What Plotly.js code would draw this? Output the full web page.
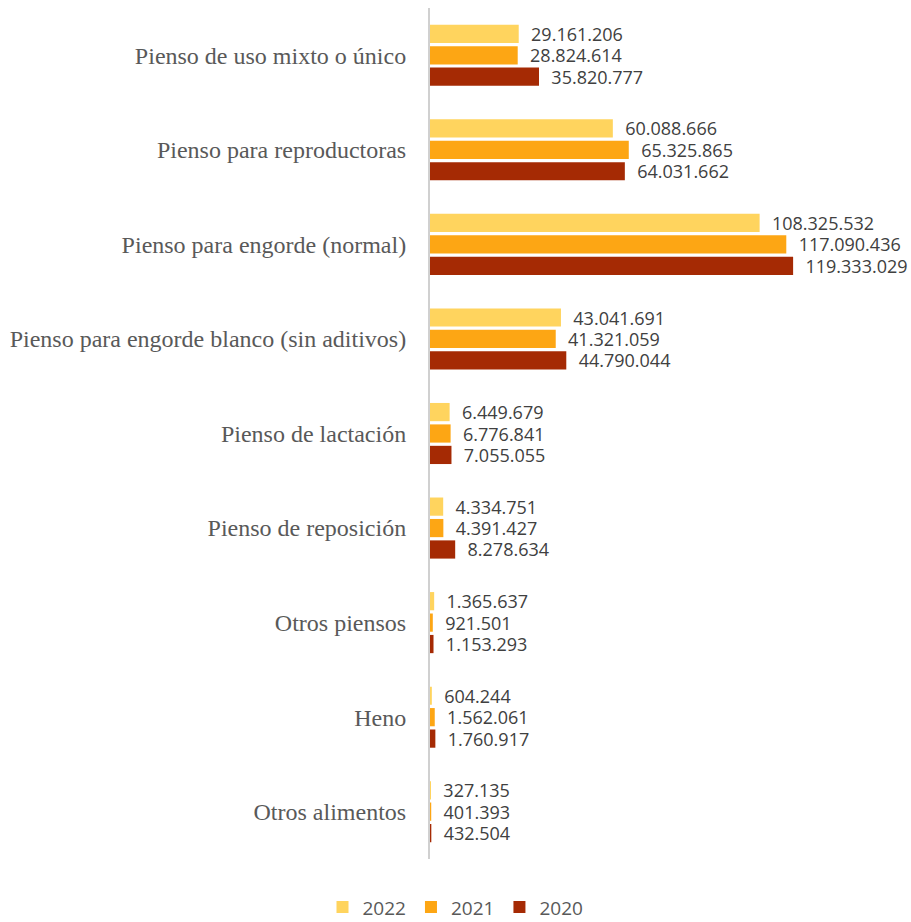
<!DOCTYPE html>
<html><head><meta charset="utf-8">
<script src="https://cdn.plot.ly/plotly-3.0.1.min.js"></script>
<style>html,body{margin:0;padding:0;background:#fff}#chart{width:911px;height:922px}</style>
</head><body><div id="chart"></div>
<script>
const categories = ["Pienso de uso mixto o único","Pienso para reproductoras","Pienso para engorde (normal)","Pienso para engorde blanco (sin aditivos)","Pienso de lactación","Pienso de reposición","Otros piensos","Heno","Otros alimentos"];
const seriesNames = ["2022","2021","2020"];
const v2022 = [29161206,60088666,108325532,43041691,6449679,4334751,1365637,604244,327135];
const v2021 = [28824614,65325865,117090436,41321059,6776841,4391427,921501,1562061,401393];
const v2020 = [35820777,64031662,119333029,44790044,7055055,8278634,1153293,1760917,432504];
const colors = ["#FFD45E","#FDA614","#A52A04"];
const allValues = [v2022,v2021,v2020];

const traces = allValues.map((vals,i)=>({
  type:'bar', orientation:'h', name:seriesNames[i],
  x: vals, y: categories,
  marker:{color:colors[i]},
  texttemplate:'\u00a0\u00a0%{x:,.0f}', textposition:'outside', cliponaxis:false, constraintext:'none',
  textfont:{family:'Open Sans, sans-serif', size:18, color:'#404040'},
  hoverinfo:'x+name'
}));

const layout = {
  width:911, height:922,
  margin:{l:430, r:55, t:8, b:63},
  barmode:'group', bargap:0.32, bargroupgap:0.15,
  separators:',.',
  showlegend:true,
  legend:{orientation:'h', xref:'container', yref:'container', x:0.5, xanchor:'center', y:0.016, yanchor:'middle',
          font:{family:'Open Sans, sans-serif', size:19, color:'#595959'}, itemwidth:30},
  xaxis:{range:[0,140000000], showticklabels:false, showgrid:false, zeroline:false, showline:false, fixedrange:true},
  yaxis:{autorange:'reversed', showline:true, linecolor:'#D0D0D0', linewidth:2, ticks:'', ticklabelstandoff:17,
         tickfont:{family:'Liberation Serif, Times New Roman, serif', size:24, color:'#595959'}},
  plot_bgcolor:'#fff', paper_bgcolor:'#fff'
};
Plotly.newPlot('chart', traces, layout, {displayModeBar:false, staticPlot:true});
</script></body></html>
